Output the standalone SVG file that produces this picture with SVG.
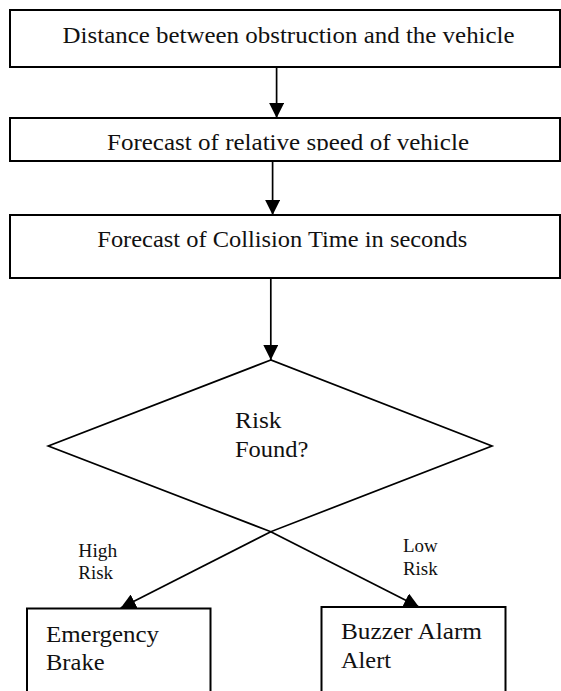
<svg xmlns="http://www.w3.org/2000/svg" width="561" height="691" viewBox="0 0 561 691">
<style>
.box{fill:#fff;stroke:#000;stroke-width:2}
.ln{fill:none;stroke:#000;stroke-width:1.7}
.t{font-family:'Liberation Serif',serif;font-size:23.5px;fill:#111}
.s{font-family:'Liberation Serif',serif;font-size:18.5px;fill:#111}
</style>
<defs>
<marker id="ah" viewBox="0 0 10 10" refX="10" refY="5" markerWidth="15" markerHeight="15" markerUnits="userSpaceOnUse" orient="auto">
<path d="M0,0 L10,5 L0,10 Z" fill="#000"/>
</marker>
<clipPath id="c2"><rect x="10" y="118" width="551" height="32.5"/></clipPath>
</defs>
<rect width="561" height="691" fill="#fff"/>
<g id="n1">
<rect class="box" x="10" y="10" width="550" height="57"/>
<text class="t" x="62.6" y="42.5" textLength="452" lengthAdjust="spacingAndGlyphs">Distance between obstruction and the vehicle</text>
</g>
<g id="n2">
<rect class="box" x="10" y="118" width="550" height="43"/>
<text class="t" x="107" y="149.5" textLength="362" lengthAdjust="spacingAndGlyphs" clip-path="url(#c2)">Forecast of relative speed of vehicle</text>
</g>
<g id="n3">
<rect class="box" x="10" y="215" width="550" height="63"/>
<text class="t" x="97.3" y="247.3" textLength="370" lengthAdjust="spacingAndGlyphs">Forecast of Collision Time in seconds</text>
</g>
<g id="n4">
<polygon class="ln" points="270.8,360 48.3,446 270.8,531.7 492,446"/>
<text class="t" x="235" y="428.3" textLength="46.5" lengthAdjust="spacingAndGlyphs">Risk</text>
<text class="t" x="235" y="456.7" textLength="73.4" lengthAdjust="spacingAndGlyphs">Found?</text>
</g>
<g id="n5">
<rect class="box" x="27" y="608.5" width="183.5" height="100"/>
<text class="t" x="46" y="641.5" textLength="113" lengthAdjust="spacingAndGlyphs">Emergency</text>
<text class="t" x="46" y="670" textLength="58.6" lengthAdjust="spacingAndGlyphs">Brake</text>
</g>
<g id="n6">
<rect class="box" x="321.5" y="607" width="184" height="100"/>
<text class="t" x="341" y="638.5" textLength="141" lengthAdjust="spacingAndGlyphs">Buzzer Alarm</text>
<text class="t" x="341" y="667.5" textLength="50" lengthAdjust="spacingAndGlyphs">Alert</text>
</g>
<g id="connectors">
<line class="ln" x1="276.6" y1="67" x2="276.6" y2="118" marker-end="url(#ah)"/>
<line class="ln" x1="272.6" y1="161" x2="272.6" y2="215" marker-end="url(#ah)"/>
<line class="ln" x1="270.8" y1="278" x2="270.8" y2="360" marker-end="url(#ah)"/>
<line class="ln" x1="270.8" y1="531.7" x2="120.7" y2="608" marker-end="url(#ah)"/>
<line class="ln" x1="270.8" y1="531.7" x2="419" y2="607" marker-end="url(#ah)"/>
<text class="s" x="78.3" y="557.3" textLength="39" lengthAdjust="spacingAndGlyphs">High</text>
<text class="s" x="78.3" y="579" textLength="34.7" lengthAdjust="spacingAndGlyphs">Risk</text>
<text class="s" x="403" y="551.5" textLength="34.7" lengthAdjust="spacingAndGlyphs">Low</text>
<text class="s" x="403" y="575" textLength="34.7" lengthAdjust="spacingAndGlyphs">Risk</text>
</g>
</svg>
